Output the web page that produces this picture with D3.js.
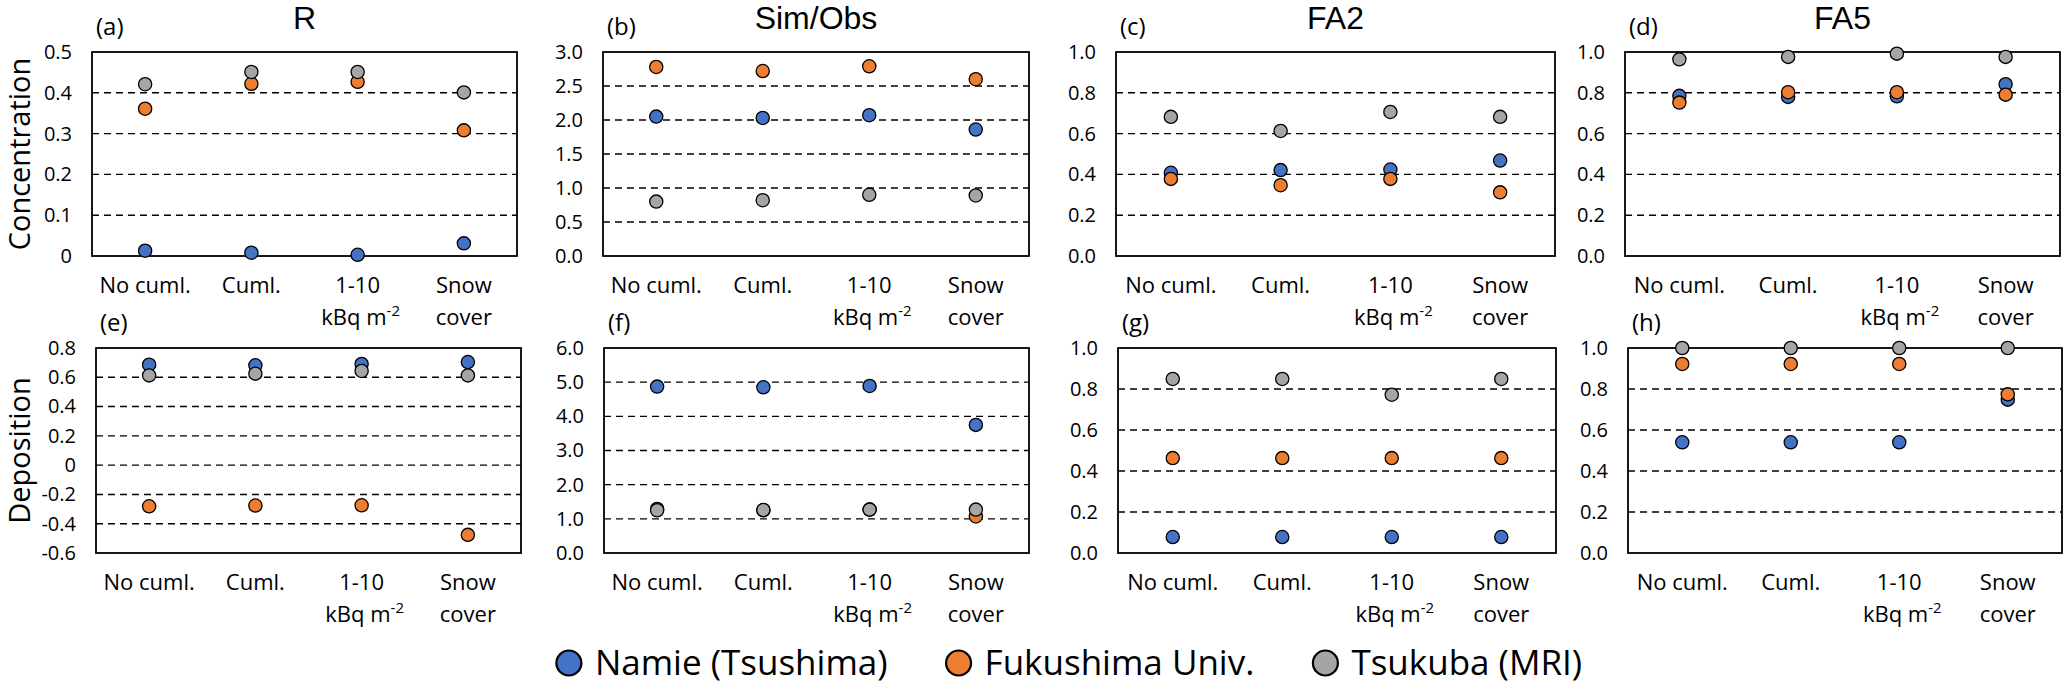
<!DOCTYPE html>
<html lang="en">
<head>
<meta charset="UTF-8">
<title>Concentration and deposition scores</title>
<script src="https://cdn.jsdelivr.net/npm/d3@7"></script>
<style>
  body { margin: 0; background: #fff; }
  text { font-family: "Open Sans", "Noto Sans", sans-serif; fill: #000; }
</style>
</head>
<body>
<svg id="chart" width="2068" height="685"></svg>
<script>
// categories (x axis), stations (series), metrics (panel columns)
const categories = ["No cuml.", "Cuml.", "1-10 kBq m-2", "Snow cover"];
const stations = ["Namie (Tsushima)", "Fukushima Univ.", "Tsukuba (MRI)"];
const metrics = ["R", "Sim/Obs", "FA2", "FA5"];
const panelLetters = ["(a)", "(b)", "(c)", "(d)", "(e)", "(f)", "(g)", "(h)"];

// concentration row: one inner array per metric (R, Sim/Obs, FA2, FA5)
const concNamie     = [[0.013, 0.008, 0.003, 0.031], [2.05, 2.03, 2.07, 1.86], [0.408, 0.421, 0.424, 0.468], [0.785, 0.780, 0.783, 0.842]];
const concFukushima = [[0.361, 0.422, 0.427, 0.308], [2.78, 2.72, 2.79, 2.60], [0.378, 0.347, 0.378, 0.312], [0.752, 0.803, 0.803, 0.791]];
const concTsukuba   = [[0.421, 0.451, 0.451, 0.401], [0.80, 0.82, 0.90, 0.89], [0.682, 0.613, 0.706, 0.682], [0.964, 0.976, 0.992, 0.976]];

// deposition row
const depNamie     = [[0.686, 0.682, 0.691, 0.704], [4.87, 4.85, 4.89, 3.75], [0.078, 0.078, 0.078, 0.078], [0.540, 0.540, 0.540, 0.748]];
const depFukushima = [[-0.281, -0.276, -0.274, -0.476], [1.29, 1.25, 1.27, 1.07], [0.463, 0.463, 0.463, 0.463], [0.922, 0.922, 0.922, 0.774]];
const depTsukuba   = [[0.613, 0.625, 0.643, 0.613], [1.25, 1.26, 1.27, 1.27], [0.849, 0.849, 0.772, 0.849], [1.0, 1.0, 1.0, 1.0]];

// y tick values and labels per panel
const concTicks = [[0, 0.1, 0.2, 0.3, 0.4, 0.5], [0, 0.5, 1, 1.5, 2, 2.5, 3], [0, 0.2, 0.4, 0.6, 0.8, 1], [0, 0.2, 0.4, 0.6, 0.8, 1]];
const concTickLabels = [["0", "0.1", "0.2", "0.3", "0.4", "0.5"], ["0.0", "0.5", "1.0", "1.5", "2.0", "2.5", "3.0"],
  ["0.0", "0.2", "0.4", "0.6", "0.8", "1.0"], ["0.0", "0.2", "0.4", "0.6", "0.8", "1.0"]];
const depTicks = [[-0.6, -0.4, -0.2, 0, 0.2, 0.4, 0.6, 0.8], [0, 1, 2, 3, 4, 5, 6], [0, 0.2, 0.4, 0.6, 0.8, 1], [0, 0.2, 0.4, 0.6, 0.8, 1]];
const depTickLabels = [["-0.6", "-0.4", "-0.2", "0", "0.2", "0.4", "0.6", "0.8"], ["0.0", "1.0", "2.0", "3.0", "4.0", "5.0", "6.0"],
  ["0.0", "0.2", "0.4", "0.6", "0.8", "1.0"], ["0.0", "0.2", "0.4", "0.6", "0.8", "1.0"]];

const colors = ["#4472C4", "#ED7D31", "#A5A5A5"];

// plot boxes in pixels
const rows = [
  { label: "Concentration", top: 52, bottom: 256, xs: [[92, 517], [603, 1029], [1116, 1555], [1625, 2060]],
    data: [concNamie, concFukushima, concTsukuba], ticks: concTicks, tickLabels: concTickLabels },
  { label: "Deposition", top: 348, bottom: 553, xs: [[96, 521], [604, 1029], [1118, 1556], [1628, 2062]],
    data: [depNamie, depFukushima, depTsukuba], ticks: depTicks, tickLabels: depTickLabels }
];

const svg = d3.select("#chart");

rows.forEach(function (row, ri) {
  // row title
  svg.append("text")
    .attr("transform", "translate(30," + (row.top + row.bottom) / 2 + ") rotate(-90)")
    .attr("text-anchor", "middle")
    .style("font-size", "29px")
    .text(row.label);

  metrics.forEach(function (metric, mi) {
    const x0 = row.xs[mi][0], x1 = row.xs[mi][1];
    const ticks = row.ticks[mi];
    const x = d3.scaleBand().domain(categories).range([x0, x1]);
    const y = d3.scaleLinear().domain(d3.extent(ticks)).range([row.bottom, row.top]);
    const g = svg.append("g");

    if (ri === 0) {
      g.append("text")
        .attr("x", (x0 + x1) / 2).attr("y", 29)
        .attr("text-anchor", "middle")
        .style("font-family", "'Liberation Sans', Arial, sans-serif")
        .style("font-size", "32px")
        .text(metric);
    }
    g.append("text")
      .attr("x", x0 + 4).attr("y", row.top - 17)
      .style("font-size", "24px")
      .text(panelLetters[ri * 4 + mi]);

    // dashed grid lines (skip the ones on the frame)
    g.selectAll(".grid").data(ticks.slice(1, -1)).enter().append("line")
      .attr("x1", x0).attr("x2", x1)
      .attr("y1", function (d) { return y(d); }).attr("y2", function (d) { return y(d); })
      .attr("stroke", "#000").attr("stroke-width", 1.4).attr("stroke-dasharray", "7,5");

    // y tick labels via axis
    const labels = row.tickLabels[mi];
    const yAxis = d3.axisLeft(y).tickValues(ticks).tickSize(0).tickPadding(20)
      .tickFormat(function (d, i) { return labels[i]; });
    const ax = g.append("g").attr("transform", "translate(" + x0 + ",0)").call(yAxis);
    ax.select(".domain").remove();
    ax.selectAll("text").style("font-size", "20px").style("font-family", null);

    // frame
    g.append("rect")
      .attr("x", x0).attr("y", row.top)
      .attr("width", x1 - x0).attr("height", row.bottom - row.top)
      .attr("fill", "none").attr("stroke", "#000").attr("stroke-width", 1.8);

    // x labels
    categories.forEach(function (c) {
      const cx = x(c) + x.bandwidth() / 2;
      const t = g.append("text").attr("text-anchor", "middle").style("font-size", "22px");
      if (c === "No cuml." || c === "Cuml.") {
        t.attr("x", cx).attr("y", row.bottom + 37).text(c);
      } else if (c === "Snow cover") {
        t.append("tspan").attr("x", cx).attr("y", row.bottom + 37).text("Snow");
        t.append("tspan").attr("x", cx).attr("y", row.bottom + 69).text("cover");
      } else {
        t.append("tspan").attr("x", cx).attr("y", row.bottom + 37).text("1-10");
        const t2 = g.append("text").attr("text-anchor", "middle").style("font-size", "22px")
          .attr("x", cx + 3).attr("y", row.bottom + 69);
        t2.append("tspan").text("kBq m");
        t2.append("tspan").attr("dy", -9).style("font-size", "15px").text("-2");
      }
    });

    // dots
    row.data.forEach(function (series, si) {
      g.selectAll(".dot" + si).data(series[mi]).enter().append("circle")
        .attr("cx", function (d, i) { return x(categories[i]) + x.bandwidth() / 2; })
        .attr("cy", function (d) { return y(d); })
        .attr("r", 6.6)
        .attr("fill", colors[si])
        .attr("stroke", "#000").attr("stroke-width", 1.3);
    });
  });
});

// legend
const legend = svg.append("g");
let lx = 0;
stations.forEach(function (s, i) {
  legend.append("circle").attr("cx", lx + 13).attr("cy", 0).attr("r", 12.5)
    .attr("fill", colors[i]).attr("stroke", "#000").attr("stroke-width", 2.2);
  const t = legend.append("text").attr("x", lx + 39).attr("y", 12)
    .style("font-size", "35px").text(s);
  lx += 39 + t.node().getComputedTextLength() + 58;
});
lx -= 58;
legend.attr("transform", "translate(" + (1069 - lx / 2) + ",663)");
</script>
</body>
</html>
